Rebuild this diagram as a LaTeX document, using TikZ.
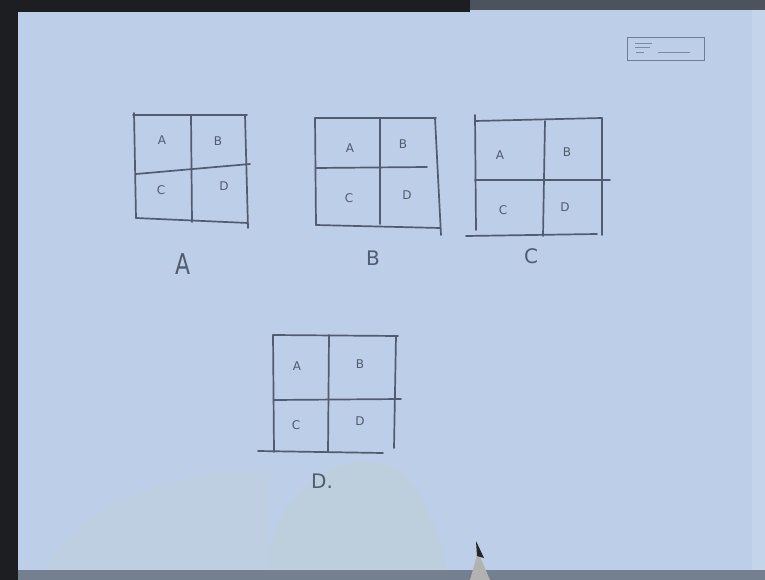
\documentclass[tikz,border=0pt]{standalone}
\usepackage{fontspec}
\setmainfont{DejaVu Sans}
\begin{document}
\begin{tikzpicture}[x=1pt,y=-1pt,
  pen/.style={draw=ink,line width=1.7pt,line cap=round},
  cell/.style={text=ink,font=\fontsize{12}{12}\selectfont,inner sep=0pt},
  lab/.style={text=ink,font=\fontsize{20}{20}\selectfont,inner sep=0pt}]
\definecolor{paper}{RGB}{188,206,232}
\definecolor{ink}{RGB}{82,92,110}
\definecolor{edge}{RGB}{28,30,34}
\definecolor{haze}{RGB}{192,210,208}
\useasboundingbox (0,0) rectangle (765,580);
\fill[paper] (0,0) rectangle (765,580);
% hand shadow near bottom
\fill[haze,opacity=0.45] (265,580) .. controls (270,500) and (330,440) .. (400,470) .. controls (430,500) and (440,540) .. (450,580) -- cycle;
\fill[haze,opacity=0.25] (40,580) .. controls (60,520) and (150,470) .. (270,470) -- (265,580) -- cycle;
% photo edges
\fill[edge] (0,0) rectangle (18,580);
\fill[edge] (0,0) rectangle (470,12);
\fill[edge!70!paper] (470,0) rectangle (765,10);
\fill[edge!45!paper] (18,570) rectangle (765,580);
\fill[paper!88!white] (752,10) rectangle (765,570);
% small stamp top right
\draw[ink!70!paper,line width=0.8pt] (627,37) rectangle (704,60);
\draw[ink!60!paper,line width=0.6pt] (635,43) -- (652,43) (635,47) -- (650,47) (658,52) -- (690,52) (636,52) -- (644,52);

% ---- grid A
\draw[pen] (133,115) -- (247,115);
\draw[pen] (134,113) -- (136,218);
\draw[pen] (245,115) -- (248,228);
\draw[pen] (191,115) -- (192,222);
\draw[pen] (136,174) -- (250,164);
\draw[pen] (136,218) -- (248,223);
\node[cell] (aA) at (162,140) {A};
\node[cell] (aB) at (218,141) {B};
\node[cell] (aC) at (161,190) {C};
\node[cell] (aD) at (224,186) {D};
\node[lab,font=\fontsize{22}{22}\selectfont,yscale=1.3] (labA) at (183,264) {A};

% ---- grid B
\draw[pen] (315,118) -- (436,118);
\draw[pen] (315,118) -- (316,225);
\draw[pen] (435,118) -- (441,235);
\draw[pen] (380,118) -- (380,224);
\draw[pen] (316,168) -- (427,167);
\draw[pen] (316,225) -- (440,228);
\node[cell] (bA) at (350,148) {A};
\node[cell] (bB) at (403,144) {B};
\node[cell] (bC) at (349,198) {C};
\node[cell] (bD) at (407,195) {D};
\node[lab] (labB) at (373,258) {B};

% ---- grid C
\draw[pen] (475,115) -- (476,230);
\draw[pen] (475,121) -- (602,118);
\draw[pen] (602,118) -- (602,235);
\draw[pen] (545,121) -- (543,236);
\draw[pen] (475,180) -- (610,180);
\draw[pen] (466,236) -- (597,234);
\node[cell] (cA) at (500,155) {A};
\node[cell] (cB) at (567,152) {B};
\node[cell] (cC) at (503,210) {C};
\node[cell] (cD) at (565,207) {D};
\node[lab] (labC) at (531,256) {C};

% ---- grid D
\draw[pen] (273,335) -- (274,452);
\draw[pen] (273,335) -- (398,336);
\draw[pen] (396,336) -- (394,448);
\draw[pen] (329,335) -- (328,452);
\draw[pen] (274,400) -- (401,399);
\draw[pen] (258,451) -- (383,453);
\node[cell] (dA) at (297,366) {A};
\node[cell] (dB) at (360,364) {B};
\node[cell] (dC) at (296,425) {C};
\node[cell] (dD) at (360,421) {D};
\node[lab] (labD) at (322,481) {D.};

% pen tip
\fill[gray!60!white] (478,552) -- (490,580) -- (470,580) -- cycle;
\fill[black!85] (476,541) -- (484,558) -- (477,556) -- cycle;
\end{tikzpicture}
\end{document}
